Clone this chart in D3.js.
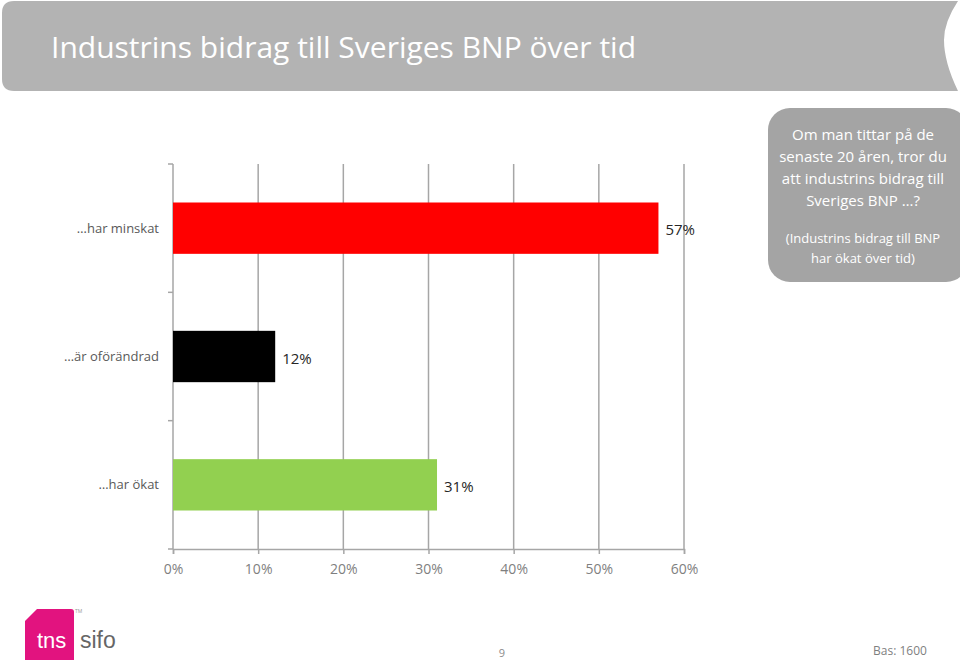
<!DOCTYPE html>
<html>
<head>
<meta charset="utf-8">
<script src="https://d3js.org/d3.v7.min.js"></script>
<style>
  body { margin: 0; background: #fff; }
  text { font-family: 'Open Sans', 'Noto Sans', sans-serif; }
</style>
</head>
<body>
<div id="viz"></div>
<script>
// data
var categories = ["\u2026har minskat", "\u2026är oförändrad", "\u2026har ökat"];
var values = [57, 12, 31];
var barColors = ["#ff0000", "#000000", "#92d050"];
var tickValues = [0, 10, 20, 30, 40, 50, 60];

var width = 960, height = 661;

var svg = d3.select("#viz").append("svg")
  .attr("width", width)
  .attr("height", height);

// title banner with notch on the right
svg.append("path")
  .attr("d", "M14,1 L958,1 Q944,22 944,40 Q944,62 958,91 L14,91 Q2,91 2,79 L2,13 Q2,1 14,1 Z")
  .style("fill", "#b3b3b3");

svg.append("text")
  .attr("x", 51)
  .attr("y", 58)
  .style("font-size", "30px")
  .style("fill", "#fff")
  .text("Industrins bidrag till Sveriges BNP över tid");

// chart
var x = d3.scaleLinear().domain([0, 60]).range([173, 684]);
var y = d3.scaleBand().domain(categories).range([164, 549]).paddingInner(0.6).paddingOuter(0.3);

// gridlines
svg.selectAll(".grid")
  .data(tickValues.slice(1))
  .enter().append("line")
  .attr("x1", function(d) { return x(d); })
  .attr("x2", function(d) { return x(d); })
  .attr("y1", 164)
  .attr("y2", 549)
  .style("stroke", "#a6a6a6")
  .style("stroke-width", 1.5);

// y axis with ticks between categories
var yAxisG = svg.append("g");
yAxisG.append("line")
  .attr("x1", 173).attr("x2", 173)
  .attr("y1", 164).attr("y2", 549)
  .style("stroke", "#a6a6a6").style("stroke-width", 1.5);
var step = (549 - 164) / 3;
yAxisG.selectAll(".ytick")
  .data(d3.range(4))
  .enter().append("line")
  .attr("x1", 168).attr("x2", 173)
  .attr("y1", function(i) { return 164 + i * step; })
  .attr("y2", function(i) { return 164 + i * step; })
  .style("stroke", "#a6a6a6").style("stroke-width", 1.5);

// x axis
var xAxis = d3.axisBottom(x)
  .tickValues(tickValues)
  .tickSize(5)
  .tickPadding(10)
  .tickFormat(function(d) { return d + "%"; });

var xg = svg.append("g")
  .attr("transform", "translate(0,549)")
  .call(xAxis);
xg.select(".domain").style("stroke", "#a6a6a6").style("stroke-width", 1.5);
xg.selectAll(".tick line").style("stroke", "#a6a6a6").style("stroke-width", 1.5);
xg.selectAll(".tick text")
  .style("font-family", "'Open Sans', 'Noto Sans', sans-serif")
  .style("font-size", "14px")
  .style("fill", "#7f7f7f");

// bars
svg.selectAll(".bar")
  .data(values)
  .enter().append("rect")
  .attr("x", x(0))
  .attr("y", function(d, i) { return y(categories[i]); })
  .attr("width", function(d) { return x(d) - x(0); })
  .attr("height", y.bandwidth())
  .style("fill", function(d, i) { return barColors[i]; });

// value labels
svg.selectAll(".val")
  .data(values)
  .enter().append("text")
  .attr("x", function(d) { return x(d) + 7; })
  .attr("y", function(d, i) { return y(categories[i]) + y.bandwidth() / 2 + 2; })
  .attr("dy", ".35em")
  .style("font-size", "15px")
  .style("fill", "#262626")
  .text(function(d) { return d + "%"; });

// category labels
svg.selectAll(".cat")
  .data(categories)
  .enter().append("text")
  .attr("x", 159)
  .attr("y", function(d) { return y(d) + y.bandwidth() / 2; })
  .attr("dy", ".35em")
  .attr("text-anchor", "end")
  .style("font-size", "13px")
  .style("fill", "#595959")
  .text(function(d) { return d; });

// callout box
svg.append("rect")
  .attr("x", 768).attr("y", 108)
  .attr("width", 200).attr("height", 174)
  .attr("rx", 22).attr("ry", 22)
  .style("fill", "#a4a4a4");

var calloutLines = [
  { t: "Om man tittar på de", y: 140, s: 15 },
  { t: "senaste 20 åren, tror du", y: 162, s: 15 },
  { t: "att industrins bidrag till", y: 184, s: 15 },
  { t: "Sveriges BNP \u2026?", y: 206, s: 15 },
  { t: "(Industrins bidrag till BNP", y: 243, s: 13 },
  { t: "har ökat över tid)", y: 263, s: 13 }
];
svg.selectAll(".callout")
  .data(calloutLines)
  .enter().append("text")
  .attr("x", 863)
  .attr("y", function(d) { return d.y; })
  .attr("text-anchor", "middle")
  .style("font-size", function(d) { return d.s + "px"; })
  .style("fill", "#fff")
  .text(function(d) { return d.t; });

// logo
svg.append("path")
  .attr("d", "M37,609 L71,609 Q74,609 74,612 L74,660 L25,660 L25,621 Z")
  .style("fill", "#e2137f");
svg.append("text")
  .attr("x", 37).attr("y", 648)
  .style("font-family", "Arial, 'Liberation Sans', sans-serif")
  .style("font-size", "22px")
  .style("fill", "#fff")
  .text("tns");
svg.append("text")
  .attr("x", 80).attr("y", 648)
  .style("font-family", "Arial, 'Liberation Sans', sans-serif")
  .style("font-size", "23px")
  .style("fill", "#666")
  .text("sifo");
svg.append("text")
  .attr("x", 75).attr("y", 613)
  .style("font-size", "5px")
  .style("fill", "#999")
  .text("TM");

// footer
svg.append("text")
  .attr("x", 502).attr("y", 657)
  .attr("text-anchor", "middle")
  .style("font-size", "11px")
  .style("fill", "#8c8c8c")
  .text("9");

svg.append("text")
  .attr("x", 900).attr("y", 655)
  .attr("text-anchor", "middle")
  .style("font-size", "12px")
  .style("fill", "#7f7f7f")
  .text("Bas: 1600");
</script>
</body>
</html>
